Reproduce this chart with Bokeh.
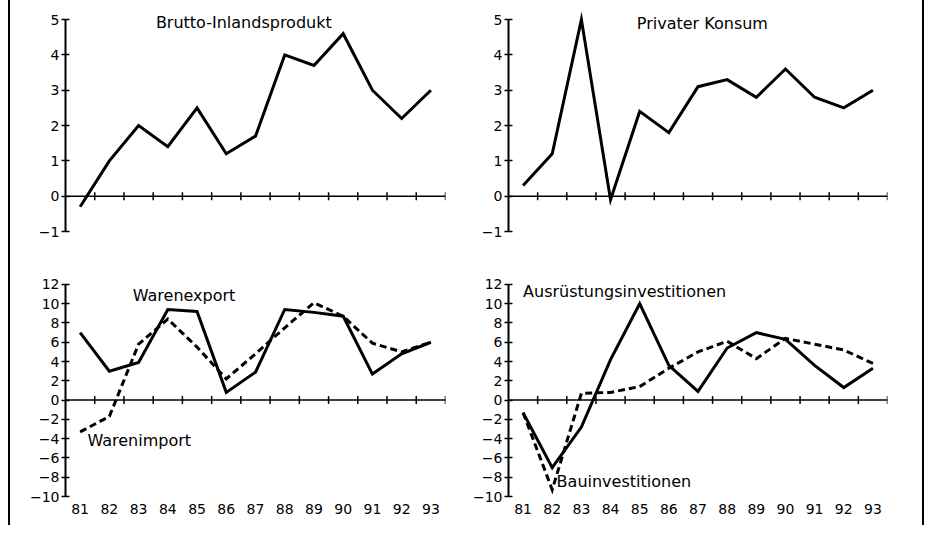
import math
from bokeh.plotting import figure
from bokeh.layouts import gridplot, row
from bokeh.models import LinearAxis, FixedTicker, Label, Range1d, Span, Div
from bokeh.embed import file_html
from bokeh.resources import INLINE

# ---- data ----
years = [81, 82, 83, 84, 85, 86, 87, 88, 89, 90, 91, 92, 93]
bip = [-0.3, 1.0, 2.0, 1.4, 2.5, 1.2, 1.7, 4.0, 3.7, 4.6, 3.0, 2.2, 3.0]
konsum = [0.3, 1.2, 5.0, -0.1, 2.4, 1.8, 3.1, 3.3, 2.8, 3.6, 2.8, 2.5, 3.0]
warenexport = [7.0, 3.0, 3.9, 9.4, 9.2, 0.8, 2.9, 9.4, 9.1, 8.7, 2.7, 4.8, 6.0]
warenimport = [-3.3, -1.7, 5.8, 8.4, 5.5, 2.2, 4.8, 7.5, 10.1, 8.7, 5.9, 5.0, 6.0]
ausruestung = [-1.3, -7.0, -2.8, 4.2, 10.0, 3.6, 0.9, 5.4, 7.0, 6.3, 3.6, 1.3, 3.3]
bau = [-1.3, -9.3, 0.7, 0.8, 1.4, 3.3, 5.0, 6.1, 4.3, 6.4, 5.8, 5.2, 3.8]

y_ticks_top = [-1, 0, 1, 2, 3, 4, 5]
y_ticks_bottom = [-10, -8, -6, -4, -2, 0, 2, 4, 6, 8, 10, 12]
x_tick_marks = [81.5, 82.5, 83.5, 84.5, 85.5, 86.5, 87.5, 88.5, 89.5, 90.5, 91.5, 92.5, 93.5]

FONT = "DejaVu Sans"


def make_panel(width, height, left, right, bottom, y_lo, y_hi, y_top, y_ticks, show_years):
    p = figure(width=width, height=height,
               x_range=Range1d(80.5, 93.5), y_range=Range1d(y_lo, y_top),
               output_backend="svg", toolbar_location=None,
               x_axis_location=None, y_axis_location="left",
               min_border_left=left, min_border_right=right,
               min_border_top=0, min_border_bottom=bottom)
    p.xgrid.visible = False
    p.ygrid.visible = False
    p.outline_line_color = None
    p.background_fill_color = "white"
    p.border_fill_color = "white"

    yax = p.yaxis[0]
    yax.bounds = (y_lo, y_hi)
    yax.ticker = FixedTicker(ticks=y_ticks)
    yax.major_tick_in = 4
    yax.major_tick_out = 4
    yax.minor_tick_line_color = None
    yax.axis_line_width = 2
    yax.major_tick_line_width = 1.5
    yax.major_label_text_font = FONT
    yax.major_label_text_font_size = "14px"
    yax.major_label_text_color = "black"
    yax.major_label_standoff = 2

    if show_years:
        lax = LinearAxis(ticker=FixedTicker(ticks=years),
                         axis_line_color=None, major_tick_line_color=None,
                         minor_tick_line_color=None,
                         major_label_text_font=FONT,
                         major_label_text_font_size="14px",
                         major_label_text_color="black",
                         major_label_standoff=1)
        p.add_layout(lax, "below")

    # zero line with crossing tick marks
    p.add_layout(Span(location=0, dimension="width", line_color="black", line_width=1.5))
    p.scatter(x=x_tick_marks, y=[0] * len(x_tick_marks), marker="dash",
              angle=math.pi / 2, size=8, line_color="black", line_width=1.5)
    return p


def add_text(p, x, y, text, align="left"):
    p.add_layout(Label(x=x, y=y, text=text, text_font=FONT,
                       text_font_size="16px", text_color="black",
                       text_align=align, text_baseline="middle"))


# top-left: Brutto-Inlandsprodukt
p1 = make_panel(455, 260, 55, 20, 29, -1, 5, 5.54, y_ticks_top, False)
p1.line(years, bip, line_width=3, color="black", line_join="miter")
add_text(p1, 86.6, 4.91, "Brutto-Inlandsprodukt", "center")

# top-right: Privater Konsum
p2 = make_panel(457, 260, 43, 35, 29, -1, 5, 5.54, y_ticks_top, False)
p2.line(years, konsum, line_width=3, color="black", line_join="miter")
add_text(p2, 87.15, 4.88, "Privater Konsum", "center")

# bottom-left: Warenexport / Warenimport
p3 = make_panel(455, 265, 55, 20, 29, -10, 12, 14.48, y_ticks_bottom, True)
p3.line(years, warenimport, line_width=3, color="black", line_dash="7 4", line_join="miter")
p3.line(years, warenexport, line_width=3, color="black", line_join="miter")
add_text(p3, 82.8, 10.9, "Warenexport")
add_text(p3, 81.25, -4.15, "Warenimport")

# bottom-right: Ausruestungs-/Bauinvestitionen
p4 = make_panel(457, 265, 43, 35, 29, -10, 12, 14.48, y_ticks_bottom, True)
p4.line(years, bau, line_width=3, color="black", line_dash="7 4", line_join="miter")
p4.line(years, ausruestung, line_width=3, color="black", line_join="miter")
add_text(p4, 81.0, 11.3, "Ausrüstungsinvestitionen")
add_text(p4, 82.15, -8.45, "Bauinvestitionen")

grid = gridplot([[p1, p2], [p3, p4]], toolbar_location=None)
left_bar = Div(width=2, height=525, margin=(0, 0, 0, 8), styles={"background-color": "black"})
right_bar = Div(width=2, height=525, margin=0, styles={"background-color": "black"})
page = row(left_bar, grid, right_bar, spacing=0)

open("out.html", "w").write(file_html(page, INLINE))
